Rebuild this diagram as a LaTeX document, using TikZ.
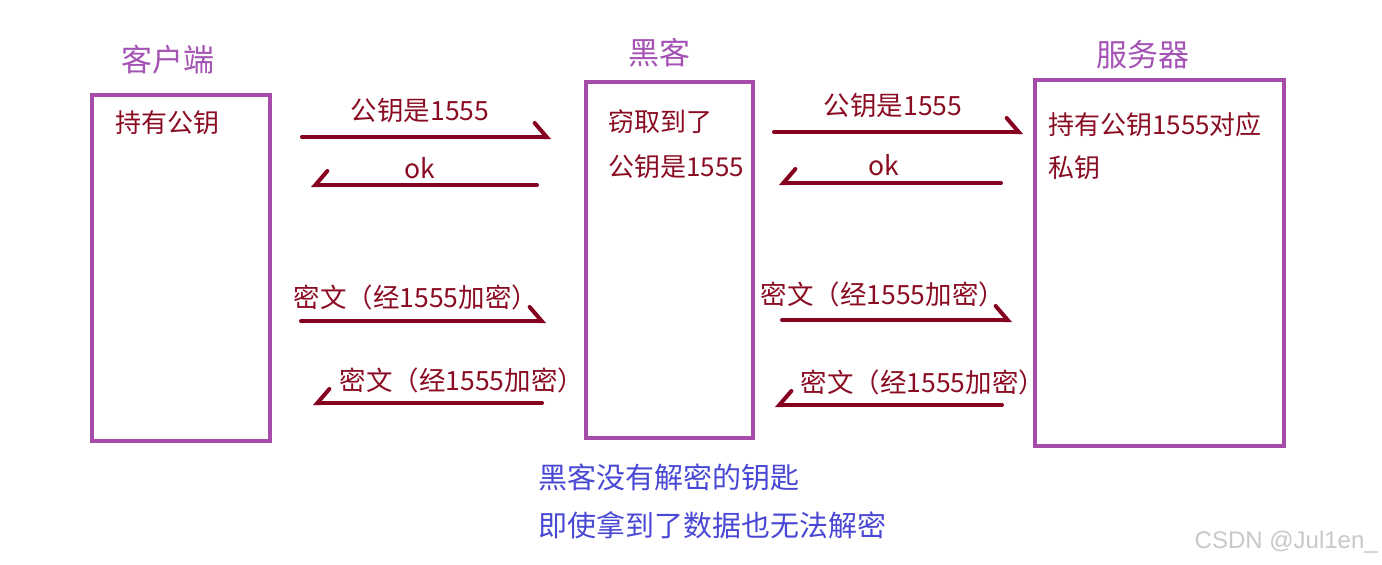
\documentclass[tikz,border=0pt]{standalone}
\usepackage{fontspec}
\setmainfont{Noto Sans CJK SC}
\newfontfamily\wmfont{Liberation Sans}
\usetikzlibrary{arrows.meta}
\definecolor{boxpurple}{HTML}{A54CAB}
\definecolor{titlepurple}{HTML}{A453B4}
\definecolor{txtred}{HTML}{8A0C22}
\definecolor{arrred}{HTML}{860020}
\definecolor{noteblue}{HTML}{4848D4}
\definecolor{wmgray}{HTML}{C8C8C8}
\tikzset{
  box/.style={draw=boxpurple, line width=4pt, rectangle, inner sep=0pt},
  titletxt/.style={text=titlepurple, font=\fontsize{31}{36}\selectfont, inner sep=0pt},
  intxt/.style={text=txtred, font=\fontsize{26}{30}\selectfont, inner sep=0pt, anchor=west},
  lbl/.style={text=txtred, font=\fontsize{26.5}{30}\selectfont, inner sep=0pt},
  notetxt/.style={text=noteblue, font=\fontsize{29}{34}\selectfont, inner sep=0pt, anchor=west},
  rarr/.style={draw=arrred, line width=4pt, line cap=round, -{Straight Barb[left,length=12pt,width=28pt,line cap=round]}},
  larr/.style={draw=arrred, line width=4pt, line cap=round, -{Straight Barb[right,length=12pt,width=28pt,line cap=round]}},
}
\begin{document}
\begin{tikzpicture}[x=1pt,y=-1pt]
\useasboundingbox (0,0) rectangle (1382,565);
% boxes
\node[box, minimum width=178pt, minimum height=346pt] (client) at (181,268) {};
\node[box, minimum width=167pt, minimum height=356pt] (hacker) at (669.5,260) {};
\node[box, minimum width=249pt, minimum height=366pt] (server) at (1159.5,263) {};
% titles
\node[titletxt] (t1) at (168,60) {客户端};
\node[titletxt] (t2) at (659,53) {黑客};
\node[titletxt] (t3) at (1143,55) {服务器};
% box texts
\node[intxt] (c1) at (115,123) {持有公钥};
\node[intxt] (h1) at (608,122) {窃取到了};
\node[intxt] (h2) at (608,167) {公钥是1555};
\node[intxt] (s1) at (1048,125) {持有公钥1555对应};
\node[intxt] (s2) at (1048,168) {私钥};
% arrow end points
\coordinate (a1s) at (302,137); \coordinate (a1e) at (551,137);
\coordinate (a2s) at (537,185); \coordinate (a2e) at (311,185);
\coordinate (a3s) at (774,132); \coordinate (a3e) at (1023,132);
\coordinate (a4s) at (1001,183); \coordinate (a4e) at (779,183);
\coordinate (a5s) at (301,321); \coordinate (a5e) at (546,321);
\coordinate (a6s) at (542,403); \coordinate (a6e) at (313,403);
\coordinate (a7s) at (782,320); \coordinate (a7e) at (1012,320);
\coordinate (a8s) at (1002,405); \coordinate (a8e) at (775,405);
\draw[rarr] (a1s) -- (a1e);
\draw[larr] (a2s) -- (a2e);
\draw[rarr] (a3s) -- (a3e);
\draw[larr] (a4s) -- (a4e);
\draw[rarr] (a5s) -- (a5e);
\draw[larr] (a6s) -- (a6e);
\draw[rarr] (a7s) -- (a7e);
\draw[larr] (a8s) -- (a8e);
% labels
\node[lbl] (l1) at (420,111) {公钥是1555};
\node[lbl] (l2) at (420,168) {ok};
\node[lbl] (l3) at (893,106) {公钥是1555};
\node[lbl] (l4) at (884,165) {ok};
\node[lbl] (l5) at (416,297) {密文（经1555加密）};
\node[lbl] (l6) at (462,380) {密文（经1555加密）};
\node[lbl] (l7) at (883,294) {密文（经1555加密）};
\node[lbl] (l8) at (923,382) {密文（经1555加密）};
% notes
\node[notetxt] (n1) at (538,477) {黑客没有解密的钥匙};
\node[notetxt] (n2) at (538,525) {即使拿到了数据也无法解密};
% watermark
\node[text=wmgray, font=\wmfont\fontsize{24}{28}\selectfont, inner sep=0pt, anchor=east] (wm) at (1378,542) {CSDN @Jul1en\_};
\end{tikzpicture}
\end{document}
